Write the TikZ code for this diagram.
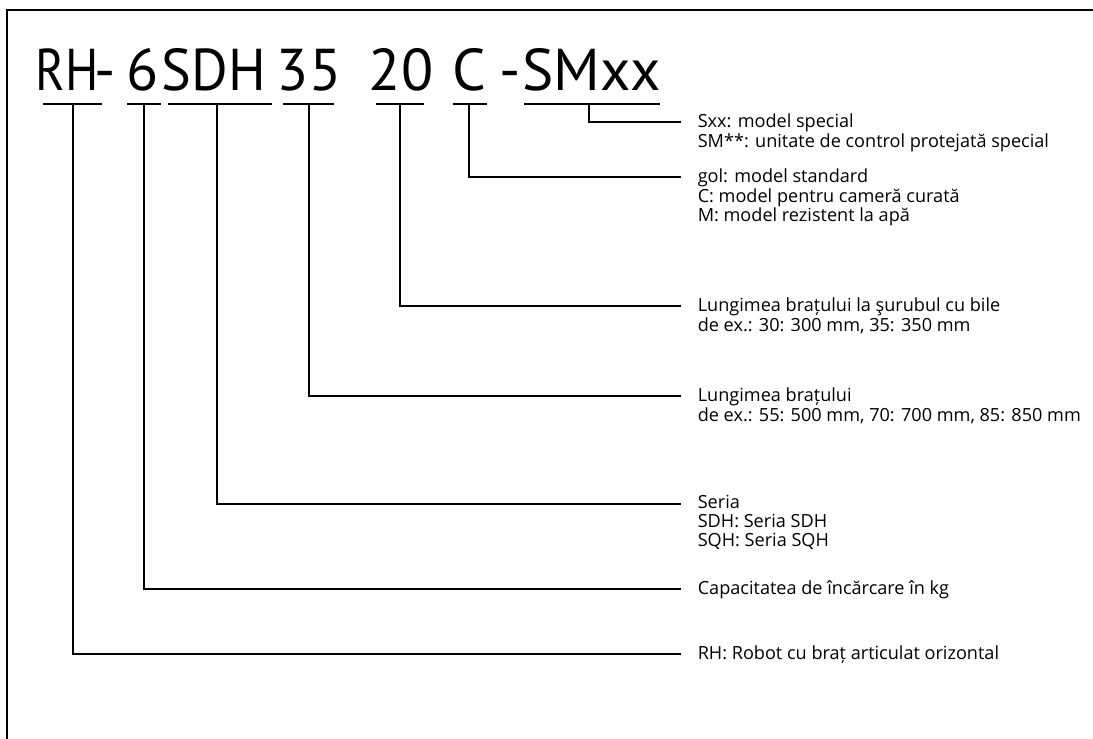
\documentclass[tikz,border=0pt]{standalone}
\usepackage{fontspec}
\setmainfont{Open Sans}
\newfontfamily\codefont{PT Sans}
\begin{document}
\begin{tikzpicture}[x=1pt,y=-1pt,line width=1.6pt,
  code/.style={font=\codefont\fontsize{59}{70}\selectfont,inner sep=0pt,anchor=base},
  lbl/.style={font=\fontsize{18.1}{19}\selectfont,inner sep=0pt,anchor=north west,align=left},
  lead/.style={line width=1.6pt}]
\useasboundingbox (0,0) rectangle (1093,739);
% frame
\draw (7,739) -- (7,10) -- (1093,10);
% type code pieces
\node[code] (rh)  at (67,90)    {\scalebox{0.84}[1]{RH}};
\node[code] (d1)  at (105,90)   {-};
\node[code] (cap) at (143,90)   {6};
\node[code] (ser) at (214,90)   {\scalebox{0.95}[1]{SDH}};
\node[code] (arm) at (309,90)   {35};
\node[code] (bal) at (401,90)   {20};
\node[code] (env) at (469.5,90) {C};
\node[code] (d2)  at (510,90)   {-};
\node[code] (spc) at (591.5,90) {SMxx};
% hook points under the pieces
\coordinate (b1) at (73,104);
\coordinate (b2) at (144,104);
\coordinate (b3) at (217,104);
\coordinate (b4) at (309,104);
\coordinate (b5) at (400,104);
\coordinate (b6) at (469,104);
\coordinate (b7) at (589,104);
% underline bars
\draw[lead] ([xshift=-30pt]b1) -- ([xshift=29pt]b1);
\draw[lead] ([xshift=-17pt]b2) -- ([xshift=17pt]b2);
\draw[lead] ([xshift=-49pt]b3) -- ([xshift=55pt]b3);
\draw[lead] ([xshift=-26pt]b4) -- ([xshift=25pt]b4);
\draw[lead] ([xshift=-24pt]b5) -- ([xshift=24pt]b5);
\draw[lead] ([xshift=-16pt]b6) -- ([xshift=18pt]b6);
\draw[lead] ([xshift=-65pt]b7) -- ([xshift=71pt]b7);
% connector ends
\coordinate (e7) at (681,122);
\coordinate (e6) at (681,177);
\coordinate (e5) at (681,306);
\coordinate (e4) at (681,396);
\coordinate (e3) at (681,504);
\coordinate (e2) at (681,589);
\coordinate (e1) at (681,654);
% labels
\node[lbl] (l7) at (697,112.7) {\strut Sxx: model special\\SM**: unitate de control protejată special};
\node[lbl] (l6) at (697,167.7) {\strut gol: model standard\\C: model pentru cameră curată\\M: model rezistent la apă};
\node[lbl] (l5) at (697,296.7) {\strut Lungimea brațului la şurubul cu bile\\de ex.: 30: 300 mm, 35: 350 mm};
\node[lbl] (l4) at (697,386.7) {\strut Lungimea brațului\\de ex.: 55: 500 mm, 70: 700 mm, 85: 850 mm};
\node[lbl] (l3) at (697,494.7) {\strut Seria\\SDH: Seria SDH\\SQH: Seria SQH};
\node[lbl] (l2) at (697,579.7) {\strut Capacitatea de încărcare în kg};
\node[lbl] (l1) at (697,644.7) {\strut RH: Robot cu braț articulat orizontal};
% connectors
\draw[lead] (b7) |- (e7);
\draw[lead] (b6) |- (e6);
\draw[lead] (b5) |- (e5);
\draw[lead] (b4) |- (e4);
\draw[lead] (b3) |- (e3);
\draw[lead] (b2) |- (e2);
\draw[lead] (b1) |- (e1);
\end{tikzpicture}
\end{document}
